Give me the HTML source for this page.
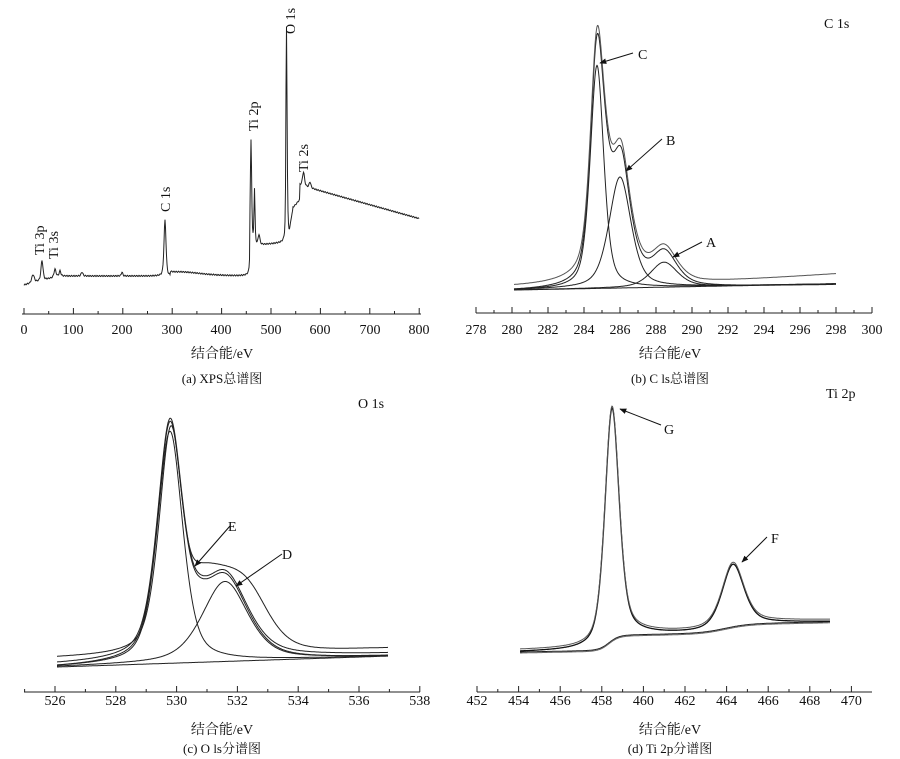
<!DOCTYPE html>
<html><head><meta charset="utf-8"><style>
html,body{margin:0;padding:0;background:#fff;}
svg{display:block;font-family:"Liberation Serif","Noto Serif CJK SC",serif;}
text{fill:#111;}
</style></head><body>
<svg id="s" width="900" height="759" viewBox="0 0 900 759" xmlns="http://www.w3.org/2000/svg">
<defs><marker id="ar" viewBox="0 0 10 10" refX="9" refY="5" markerWidth="7" markerHeight="7" orient="auto"><path d="M0,1 L10,5 L0,9 z" fill="#111"/></marker></defs>
<g id="g" fill="none" stroke="#222" stroke-width="1"></g>
<g font-size="14">
<text x="24" y="334" text-anchor="middle">0</text>
<text x="73" y="334" text-anchor="middle">100</text>
<text x="122" y="334" text-anchor="middle">200</text>
<text x="172" y="334" text-anchor="middle">300</text>
<text x="221" y="334" text-anchor="middle">400</text>
<text x="271" y="334" text-anchor="middle">500</text>
<text x="320" y="334" text-anchor="middle">600</text>
<text x="370" y="334" text-anchor="middle">700</text>
<text x="419" y="334" text-anchor="middle">800</text>
<text x="222" y="358" text-anchor="middle">结合能/eV</text>
<text x="222" y="383" text-anchor="middle" font-size="13">(a)  XPS总谱图</text>
<text transform="translate(44,255) rotate(-90)">Ti 3p</text>
<text transform="translate(58,259) rotate(-90)">Ti 3s</text>
<text transform="translate(170,212) rotate(-90)">C 1s</text>
<text transform="translate(258,131) rotate(-90)">Ti 2p</text>
<text transform="translate(295,34) rotate(-90)">O 1s</text>
<text transform="translate(308,172) rotate(-90)">Ti 2s</text>
<text x="670" y="358" text-anchor="middle">结合能/eV</text>
<text x="670" y="383" text-anchor="middle" font-size="13">(b)  C ls总谱图</text>
<text x="824" y="28">C 1s</text>
<text x="638" y="59">C</text>
<text x="666" y="145">B</text>
<text x="706" y="247">A</text>
<text x="222" y="734" text-anchor="middle">结合能/eV</text>
<text x="222" y="753" text-anchor="middle" font-size="13">(c)  O ls分谱图</text>
<text x="358" y="408">O 1s</text>
<text x="228" y="531">E</text>
<text x="282" y="559">D</text>
<text x="670" y="734" text-anchor="middle">结合能/eV</text>
<text x="670" y="753" text-anchor="middle" font-size="13">(d)  Ti 2p分谱图</text>
<text x="826" y="398">Ti 2p</text>
<text x="664" y="434">G</text>
<text x="771" y="543">F</text>
</g>
<g stroke="#111" stroke-width="1" fill="none">
<line x1="633" y1="53" x2="600" y2="63" marker-end="url(#ar)"/>
<line x1="662" y1="139" x2="626" y2="171" marker-end="url(#ar)"/>
<line x1="702" y1="242" x2="673" y2="257" marker-end="url(#ar)"/>
<line x1="230" y1="526" x2="195" y2="566" marker-end="url(#ar)"/>
<line x1="282" y1="554" x2="236" y2="586" marker-end="url(#ar)"/>
<line x1="661" y1="425" x2="620" y2="409" marker-end="url(#ar)"/>
<line x1="767" y1="537" x2="742" y2="562" marker-end="url(#ar)"/>
</g>
</svg>
<script>
var g=document.getElementById('g'),S=document.getElementById('s'),NS='http://www.w3.org/2000/svg';
function el(t,a,p){var e=document.createElementNS(NS,t);for(var k in a)e.setAttribute(k,a[k]);(p||g).appendChild(e);return e;}
function txt(x,y,s){var e=el('text',{x:x,y:y,'text-anchor':'middle','font-size':14},S);e.textContent=s;}
function axis(x0,x1,y,majors,minors){
 el('line',{x1:x0,y1:y,x2:x1,y2:y});
 majors.forEach(function(x){el('line',{x1:x,y1:y,x2:x,y2:y-6});});
 minors.forEach(function(x){el('line',{x1:x,y1:y,x2:x,y2:y-3});});
}
function pk(x,c,w,a){var d=(x-c)/w;return a*(0.5*Math.exp(-0.693*d*d)+0.5/(1+d*d));}
function lg(x,c,s){return 1/(1+Math.exp(-(x-c)/s));}
function path(f,xa,xb,col,sw){var d='';for(var x=xa;x<=xb;x+=0.5){d+=(d?'L':'M')+x.toFixed(1)+','+f(x).toFixed(1);}el('path',{d:d,stroke:col||'#222','stroke-width':sw||1});}
// panel a
var M=[],m=[];for(var i=0;i<=8;i++){M.push(24+i*49.4);m.push(24+i*49.4+24.7);}m.pop();
axis(22,421,314,M,m);
function fa(x){var y;
 if(x<250){y=276+ (x<60?(60-x)*0.25:0) - (x>170&&x<250? pk(x,180,25,4):0);}
 else if(x<286){y=246-(x-250)*0.1;}
 if(x>=300) y=188+(x-310)*0.28;
 if(x>=286&&x<300) y=200+ (300-x)*1.2;
 y-=pk(x,42,1.2,20)+pk(x,33,1.5,8)+pk(x,55,1.2,8)+pk(x,60,1,5)+pk(x,82,1,4)+pk(x,122,0.8,4)+pk(x,165,1.2,56);
 y-=pk(x,251,0.8,105)+pk(x,254.5,0.6,55)+pk(x,259,1,10);
 y-=pk(x,286.5,0.7,190);
 if(x>=287&&x<293) y+=pk(x,289,2,22);
 y-=pk(x,303.5,1.2,14)+pk(x,310,1,6);
 y+=(Math.sin(x*2.7)*0.6);
 return y;}
path(fa,24,419);
// panel b
var xb=function(E){return 476+(E-278)*18;};M=[];m=[];
for(var E=278;E<=300;E+=2){M.push(xb(E));txt(xb(E),334,E);if(E<300)m.push(xb(E+1));}
axis(476,872,313,M,m);
function bb(x){return 290-(x-514)*0.019;}
function C(x){return pk(x,597,8,223);}function B(x){return pk(x,620,13,111);}function A(x){return pk(x,664,16,25);}
function env(x){return bb(x)-C(x)-B(x)-A(x)-pk(x,606,8,25)-pk(x,622,6,15)-pk(x,665,12,8);}
path(function(x){return bb(x)-C(x);},514,836);
path(function(x){return bb(x)-B(x);},514,836);
path(function(x){return bb(x)-A(x);},514,836);
path(function(x){return bb(x);},514,836);
path(function(x){return env(x)+1;},514,836);
path(function(x){return env(x)-3-(x>700?(x-700)*0.05:0)-pk(x,600,40,4);},514,836,'#555');
// panel c
var xc=function(E){return 55+(E-526)*30.4;};M=[];m=[];
for(var E=526;E<=538;E+=2){M.push(xc(E));txt(xc(E),705,E);}
for(var E=525;E<=537;E+=2)m.push(xc(E));
axis(24,420,692,M,m);
function cb(x){return 667-(x-57)*0.033;}
function Ec(x){return pk(x,170,15,232);}function Dc(x){return pk(x,225,27,80);}
function ce(x){return cb(x)-Ec(x)-Dc(x)-pk(x,200,12,12);}
path(function(x){return cb(x)-Ec(x);},57,388);
path(function(x){return cb(x)-Dc(x);},57,388);
path(function(x){return cb(x);},57,388);
path(function(x){return ce(x)+1;},57,388);
path(function(x){return ce(x)-2;},57,388);
path(function(x){return 658-(x-57)*0.03-pk(x,171,14,226)-80*lg(x,192,6)*(1-lg(x,262,13))-pk(x,250,25,10);},57,388);
// panel d
var xd=function(E){return 477+(E-452)*20.8;};M=[];m=[];
for(var E=452;E<=470;E+=2){M.push(xd(E));txt(xd(E),705,E);if(E<470)m.push(xd(E+1));}
axis(477,872,692,M,m);
function db(x){return 652-15/(1+Math.exp(-(x-609)/5))-(x-520)*0.02-9/(1+Math.exp(-(x-725)/12));}
function G(x){return pk(x,612,8.5,232);}function F(x){return pk(x,733,13,62);}
path(function(x){return db(x);},520,830);
path(function(x){return db(x)+1;},520,830,'#666');
path(function(x){return db(x)-G(x)-F(x);},520,830,'#111',1.3);
path(function(x){return db(x)-G(x)-F(x)-2;},520,830,'#555');
</script>
</body></html>
